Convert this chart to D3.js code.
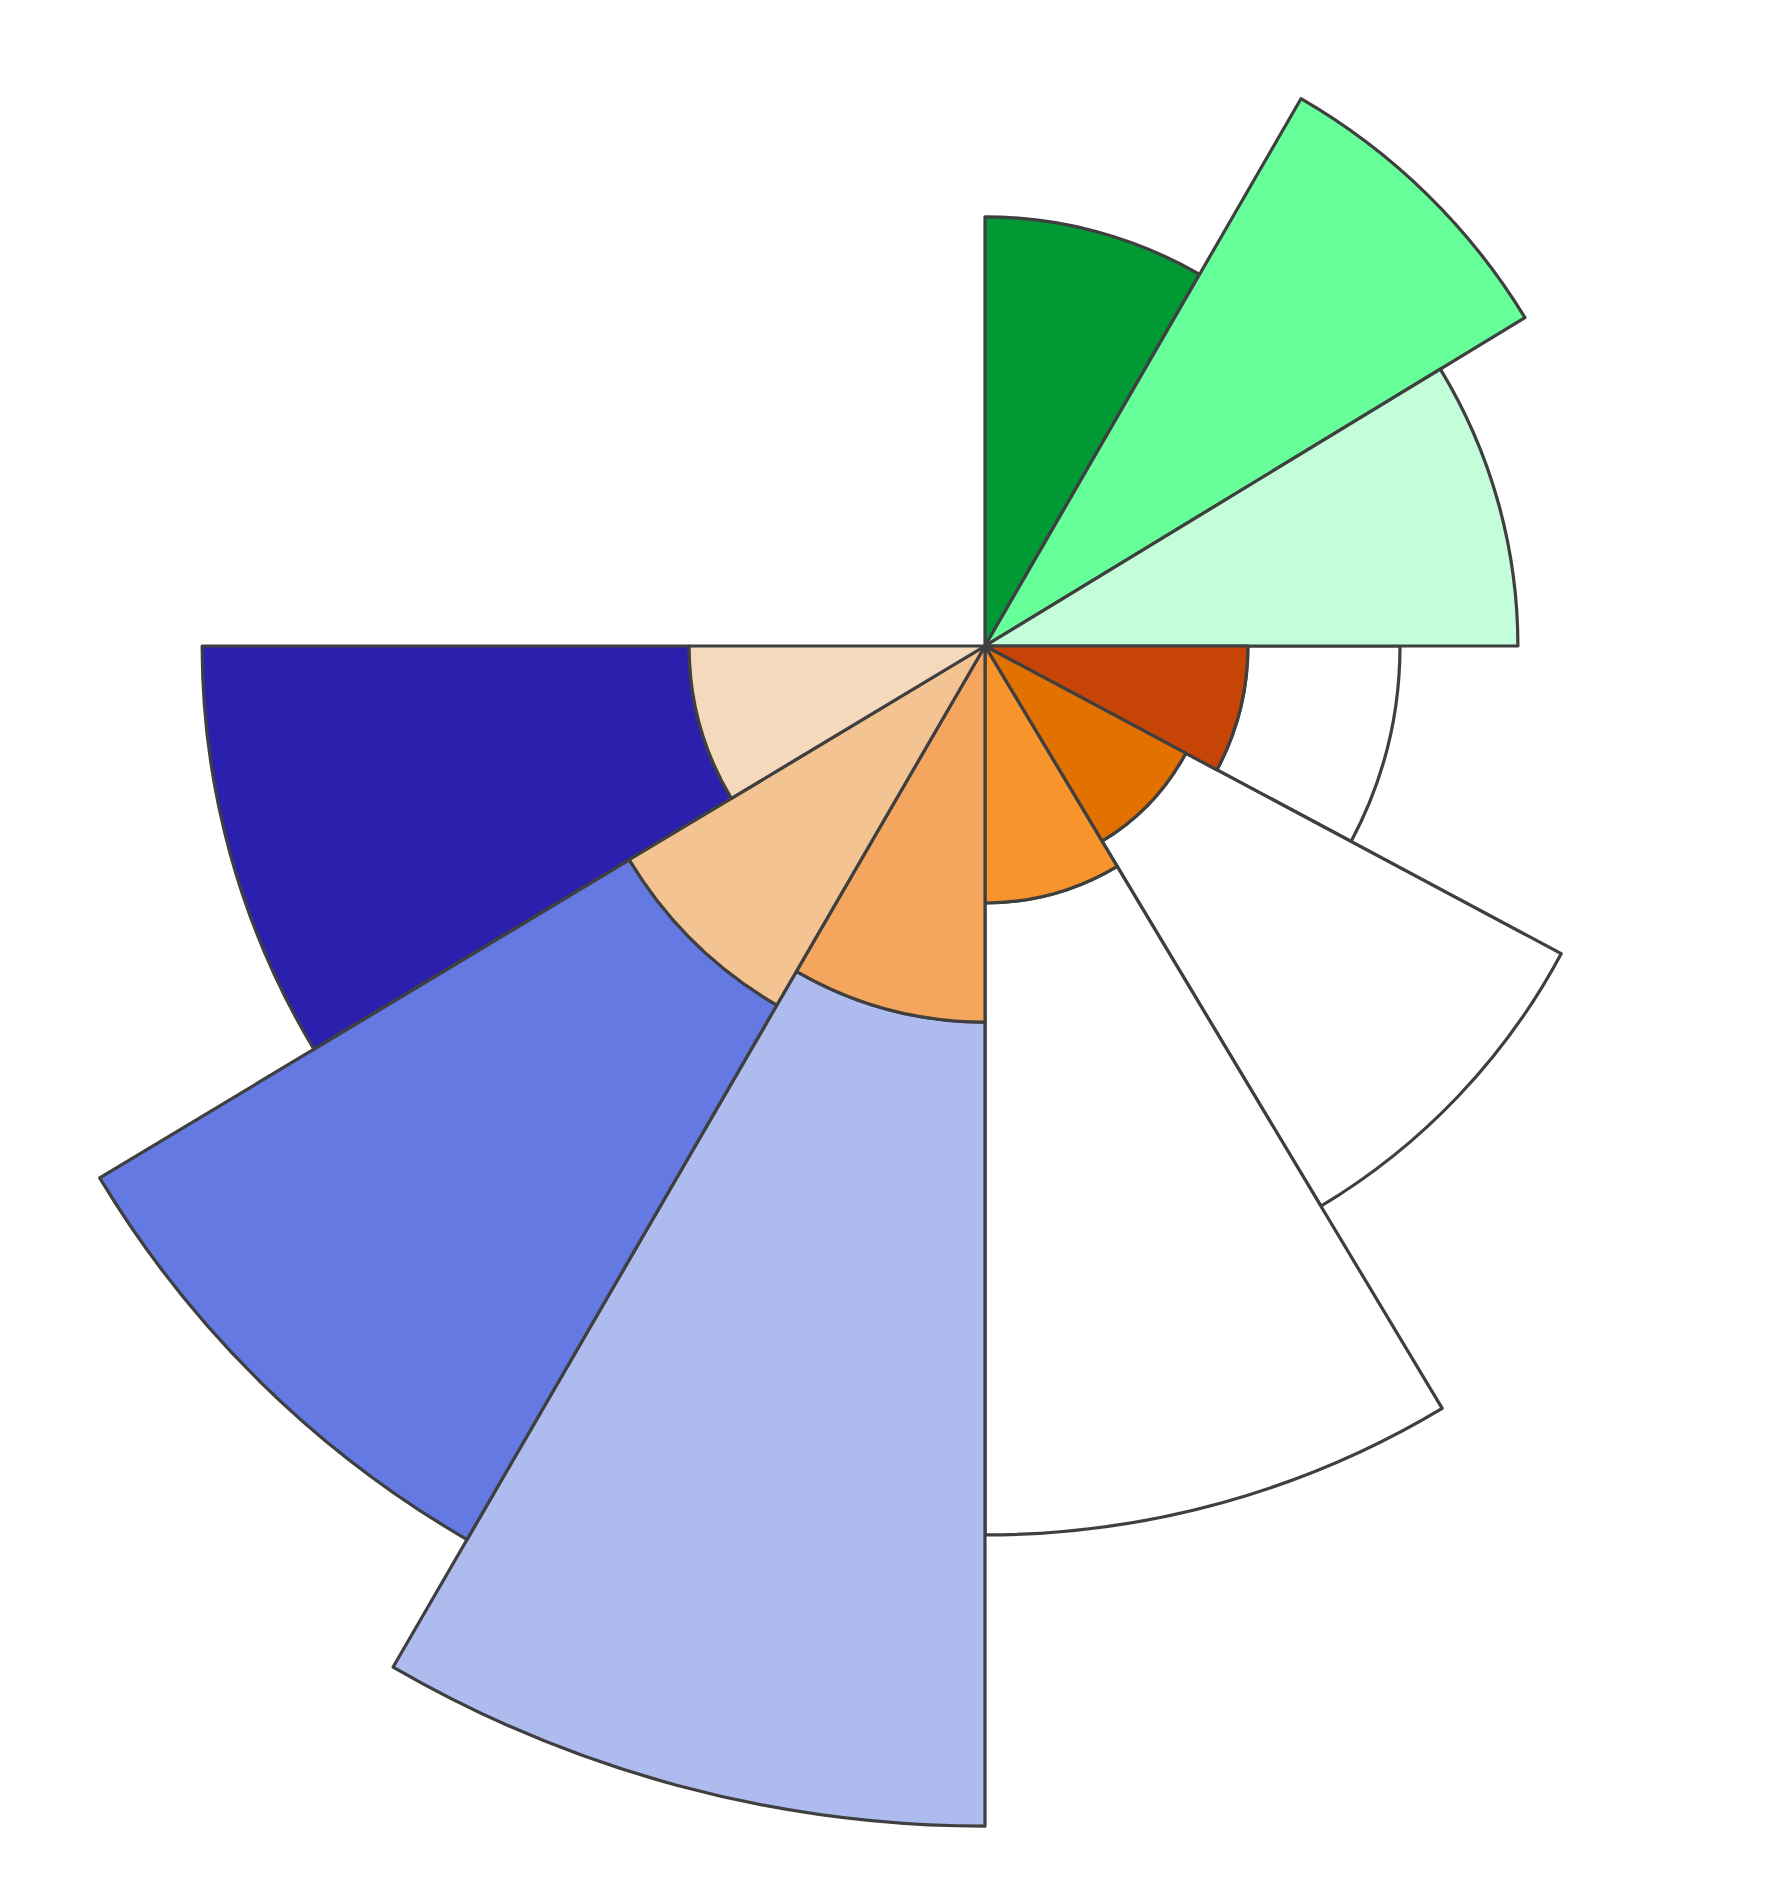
<!DOCTYPE html>
<html>
<head>
<meta charset="utf-8">
<script src="https://cdn.jsdelivr.net/npm/d3@7"></script>
<style>
  html, body { margin: 0; padding: 0; background: #ffffff; }
  svg { display: block; }
</style>
</head>
<body>
<svg id="chart" width="1786" height="1892"></svg>
<script>
// Twelve sectors clockwise from 12 o'clock
const categories = ["S1","S2","S3","S4","S5","S6","S7","S8","S9","S10","S11","S12"];
// angular width of each sector, degrees
const sectorSpans = [30, 28.7, 31.3, 28.1, 30.95, 30.95, 30.1, 28.9, 31, 30, 30, 30];
// inner (base) layer values
const innerValues = [36.4, 53.6, 45.2, 22.3, 19.3, 21.8, 31.9, 35.2, 25.1, 0, 0, 0];
// outer (stacked) layer values
const outerValues = [0, 0, 0, 12.9, 36.1, 53.6, 68.2, 52.4, 41.3, 0, 0, 0];
const innerColors = ["#009933","#66ff99","#c3fdda","#c64406","#e37100","#f7942b","#f4a65e","#f3c492","#f5d9bc","#ffffff","#ffffff","#ffffff"];
const outerColors = ["#ffffff","#ffffff","#ffffff","#ffffff","#ffffff","#ffffff","#adbbee","#6479e2","#2a20ad","#ffffff","#ffffff","#ffffff"];

const svg = d3.select("#chart");
const cx = 985, cy = 646;
const g = svg.append("g").attr("transform", `translate(${cx},${cy})`);

const deg = d3.scaleLinear().domain([0, 360]).range([0, 2 * Math.PI]);
const ends = Array.from(d3.cumsum(sectorSpans));
const radius = d3.scaleLinear().domain([0, 100]).range([0, 1179]);

const data = categories.map((c, i) => ({
  cat: c, inner: innerValues[i], outer: outerValues[i],
  ic: innerColors[i], oc: outerColors[i],
  a0: deg(ends[i] - sectorSpans[i]), a1: deg(ends[i])
}));

const arc = d3.arc();
const stroke = "#3f3f3f";
const sw = 3.2;

// outer stacked layer
g.selectAll("path.outer")
  .data(data.filter(d => d.outer > 0))
  .join("path")
  .attr("class", "outer")
  .attr("d", d => arc({
    innerRadius: radius(d.inner),
    outerRadius: radius(d.inner + d.outer),
    startAngle: d.a0,
    endAngle: d.a1
  }))
  .attr("fill", d => d.oc)
  .attr("stroke", stroke)
  .attr("stroke-width", sw)
  .attr("stroke-linejoin", "round");

// inner layer
g.selectAll("path.inner")
  .data(data.filter(d => d.inner > 0))
  .join("path")
  .attr("class", "inner")
  .attr("d", d => arc({
    innerRadius: 0,
    outerRadius: radius(d.inner),
    startAngle: d.a0,
    endAngle: d.a1
  }))
  .attr("fill", d => d.ic)
  .attr("stroke", stroke)
  .attr("stroke-width", sw)
  .attr("stroke-linejoin", "round");
</script>
</body>
</html>
